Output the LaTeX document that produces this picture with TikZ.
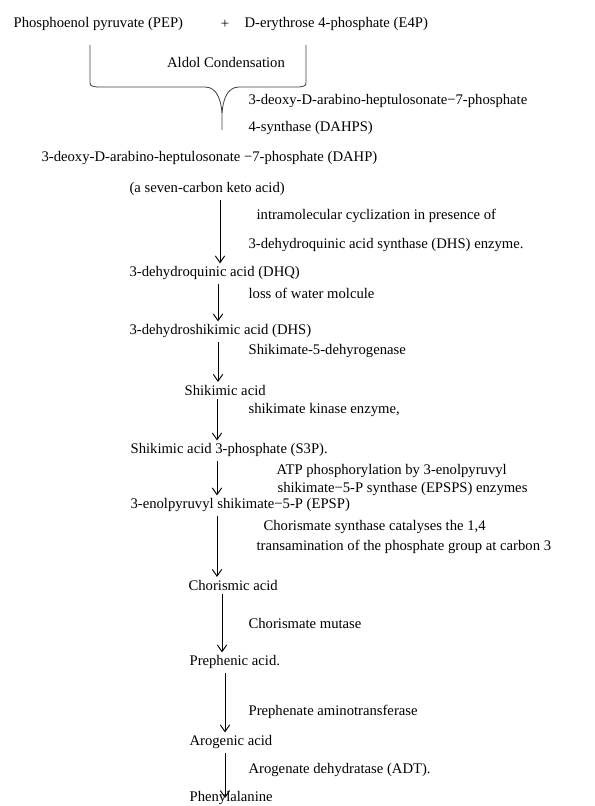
\documentclass[tikz,border=0pt]{standalone}
\usepackage{fontspec}
\setmainfont{Liberation Serif}
\usetikzlibrary{arrows.meta}

\begin{document}
\begin{tikzpicture}[x=0.75pt,y=-0.75pt,font=\fontsize{11}{13}\selectfont,>={Straight Barb[length=5pt,width=7pt]},
  cmpd/.style={anchor=west,inner sep=1pt},
  enz/.style={anchor=west,inner sep=1pt},
  flow/.style={->,line width=0.7pt,shorten <=2pt,shorten >=1pt},
  brace/.style={line width=0.6pt,black!75}]
\useasboundingbox (0,0) rectangle (594,806);
% substrates
\node[cmpd] (pep) at (12,24) {Phosphoenol pyruvate (PEP)};
\node (plus) at (225,24) {+};
\node[cmpd] (e4p) at (243,24) {D-erythrose 4-phosphate (E4P)};
% brace under both, tip at x = 222
\draw[brace] (90,45) -- (90,80) .. controls (90,86) .. (97,87) -- (205,87)
  .. controls (217,87) and (221,100) .. (222,113) -- (222,130);
\draw[brace] (222,113) .. controls (223,100) and (227,87) .. (239,87) -- (299,87)
  .. controls (306,86) .. (306,80) -- (306,45);
\node (aldol) at (226,62) {Aldol Condensation};
\node[enz] (dahps1) at (247,101) {3-deoxy-D-arabino-heptulosonate−7-phosphate};
\node[enz] (dahps2) at (247,128) {4-synthase (DAHPS)};
% main chain
\node[cmpd] (dahp) at (40,158) {3-deoxy-D-arabino-heptulosonate −7-phosphate (DAHP)};
\node[cmpd] (keto) at (128,189) {(a seven-carbon keto acid)};
\node[enz] (cyc1) at (255,216) {intramolecular cyclization in presence of};
\node[enz] (cyc2) at (247,245) {3-dehydroquinic acid synthase (DHS) enzyme.};
\node[cmpd] (dhq) at (128,273) {3-dehydroquinic acid (DHQ)};
\node[enz] (water) at (247,293) {loss of water molcule};
\node[cmpd] (dhs) at (128,331) {3-dehydroshikimic acid (DHS)};
\node[enz] (sdh) at (247,351) {Shikimate-5-dehyrogenase};
\node[cmpd] (shik) at (183,390) {Shikimic acid};
\node[enz] (sk) at (247,410) {shikimate kinase enzyme,};
\node[cmpd] (s3p) at (129,450) {Shikimic acid 3-phosphate (S3P).};
\node[enz] (atp1) at (275,471) {ATP phosphorylation by 3-enolpyruvyl};
\node[enz] (atp2) at (276,489) {shikimate−5-P synthase (EPSPS) enzymes};
\node[cmpd] (epsp) at (129,505) {3-enolpyruvyl shikimate−5-P (EPSP)};
\node[enz] (cs1) at (262,527) {Chorismate synthase catalyses the 1,4};
\node[enz] (cs2) at (255,547) {transamination of the phosphate group at carbon 3};
\node[cmpd] (cho) at (187,585) {Chorismic acid};
\node[enz] (cm) at (247,623) {Chorismate mutase};
\node[cmpd] (pre) at (188,662) {Prephenic acid.};
\node[enz] (pat) at (247,712) {Prephenate aminotransferase};
\node[cmpd] (aro) at (188,742) {Arogenic acid};
\node[enz] (adt) at (247,770) {Arogenate dehydratase (ADT).};
\node[cmpd] (phe) at (188,798) {Phenylalanine};
% arrows, each at its own x
\foreach \a/\b/\x in {keto/dhq/220, dhq/dhs/218, dhs/shik/218, shik/s3p/217,
    s3p/epsp/217, epsp/cho/217, cho/pre/222, pre/aro/225}{
  \coordinate (ax) at (\x,0);
  \draw[flow] (\a.south -| ax) -- (\b.north -| ax);
}
\coordinate (ax) at (225,0);
\draw[flow,shorten >=0pt] (aro.south -| ax) -- (phe.center -| ax);
\end{tikzpicture}
\end{document}
